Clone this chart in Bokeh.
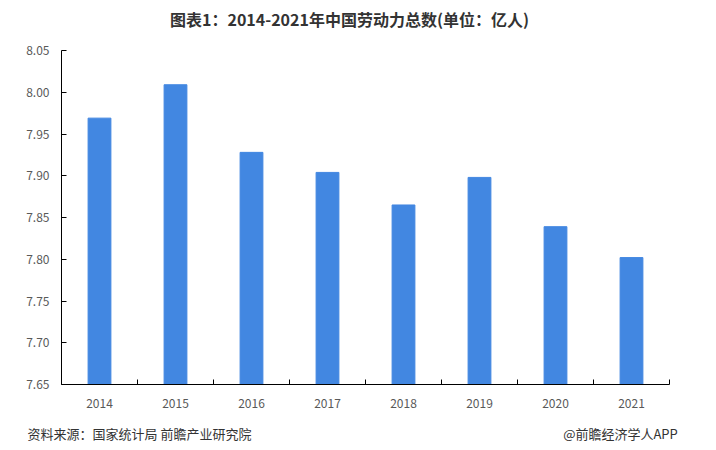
from bokeh.plotting import figure
from bokeh.layouts import column
from bokeh.models import FixedTicker, Label, Range1d, NumeralTickFormatter, LinearAxis
from bokeh.embed import file_html
from bokeh.resources import INLINE

years = ["2014", "2015", "2016", "2017", "2018", "2019", "2020", "2021"]
labor = [7.969, 8.009, 7.928, 7.904, 7.865, 7.898, 7.839, 7.802]
y_ticks = [7.65, 7.70, 7.75, 7.80, 7.85, 7.90, 7.95, 8.00, 8.05]
title_text = "图表1：2014-2021年中国劳动力总数(单位：亿人)"
source_text = "资料来源：国家统计局 前瞻产业研究院"
brand_text = "@前瞻经济学人APP"

W = 716
H_HEAD, H_MAIN, H_FOOT = 32, 388, 30
FONT = "Noto Sans CJK SC"
FL, FR = 61, 669  # frame left / right on the page


def strip(height, **kw):
    f = figure(width=W, height=height, output_backend="svg", toolbar_location=None,
               x_axis_location=None, y_axis_location=None,
               x_range=Range1d(FL, FR), y_range=Range1d(0, 1),
               min_border_left=FL, min_border_right=W - FR, **kw)
    f.outline_line_color = None
    f.grid.visible = False
    f.background_fill_color = "white"
    f.border_fill_color = "white"
    return f


head = strip(H_HEAD, min_border_top=0, min_border_bottom=0)
head.add_layout(Label(x=349 - FL, y=H_HEAD - 18, x_units="screen", y_units="screen",
                      text=title_text, text_font=FONT, text_font_size="16px",
                      text_font_style="bold", text_color="#333333",
                      text_align="center", text_baseline="middle"))

p = figure(width=W, height=H_MAIN, output_backend="svg", toolbar_location=None,
           x_range=Range1d(-0.5, len(years) - 0.5), y_range=Range1d(7.65, 8.05),
           min_border_left=FL, min_border_right=W - FR, min_border_top=50 - H_HEAD,
           min_border_bottom=H_HEAD + H_MAIN - 384)
p.outline_line_color = None
p.grid.visible = False
p.background_fill_color = "white"
p.border_fill_color = "white"

idx = list(range(len(years)))
p.vbar(x=idx, top=labor, bottom=7.65, width=0.3, color="#4287e1")

xa = p.xaxis[0]
xa.ticker = FixedTicker(ticks=idx, minor_ticks=[i - 0.5 for i in range(len(years) + 1)])
xa.major_label_overrides = {i: y for i, y in enumerate(years)}
xa.major_tick_in = 0
xa.major_tick_out = 0
xa.minor_tick_in = 5
xa.minor_tick_out = 0
xa.minor_tick_line_color = "black"
xa.axis_line_color = "black"
xa.major_label_text_font = FONT
xa.major_label_text_font_size = "12px"
xa.major_label_text_color = "#595959"
xa.major_label_standoff = 14

ya = p.yaxis[0]
ya.ticker = FixedTicker(ticks=y_ticks)
ya.formatter = NumeralTickFormatter(format="0.00")
ya.major_tick_in = 5
ya.major_tick_out = 0
ya.minor_tick_line_color = None
ya.axis_line_color = "black"
ya.major_label_text_font = FONT
ya.major_label_text_font_size = "12px"
ya.major_label_text_color = "#595959"
ya.major_label_standoff = 12

# footer: source note and brand carried as labels of a bare axis
foot = strip(H_FOOT, min_border_top=0, min_border_bottom=H_FOOT - 1)
foot_pos = [139, 620]
fa = LinearAxis(ticker=FixedTicker(ticks=foot_pos),
                major_label_overrides={foot_pos[0]: source_text, foot_pos[1]: brand_text})
fa.axis_line_color = None
fa.major_tick_line_color = None
fa.minor_tick_line_color = None
fa.major_tick_in = 0
fa.major_tick_out = 0
fa.major_label_standoff = 2
fa.major_label_text_font = FONT
fa.major_label_text_font_size = "13px"
fa.major_label_text_color = "#333333"
foot.add_layout(fa, "below")

layout = column(head, p, foot, spacing=0)
open("out.html", "w").write(file_html(layout, INLINE))
